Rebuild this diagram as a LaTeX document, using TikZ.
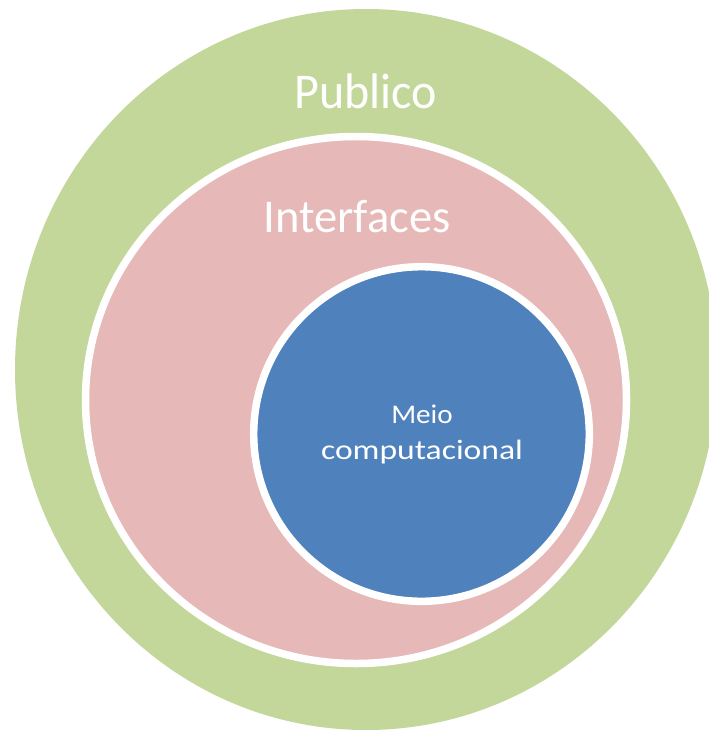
\documentclass[tikz,border=0pt]{standalone}
\usepackage{fontspec}
\setmainfont{Carlito}
\usepackage{graphicx}
\definecolor{pubgreen}{HTML}{C4D79B}
\definecolor{intpink}{HTML}{E6B8B7}
\definecolor{meioblue}{HTML}{4F81BD}
\begin{document}
\begin{tikzpicture}[x=1pt,y=1pt,
  ring/.style={draw=white,line width=7.5pt},
  lbl/.style={text=white,inner sep=0pt,anchor=base}]
\useasboundingbox (0,0) rectangle (709,-731);
\fill[white] (0,0) rectangle (709,-731);
\begin{scope}
\clip (0,0) rectangle (709,-731);
\fill[pubgreen] (366,-369.5) ellipse [x radius=351, y radius=360.5];
\end{scope}
\path[ring,fill=intpink] (356,-400) ellipse [x radius=270.5, y radius=263.5];
\path[ring,fill=meioblue] (421.5,-434) ellipse [x radius=167.8, y radius=167.3];
\node[lbl,font=\fontsize{50}{60}\selectfont] (pub) at (366,-108) {\scalebox{0.96}[1]{Publico}};
\node[lbl,font=\fontsize{47}{56}\selectfont] (int) at (357,-232) {\scalebox{0.99}[1]{Interfaces}};
\node[lbl,font=\fontsize{27}{32}\selectfont] (meio) at (422,-423) {\scalebox{1.08}[1]{Meio}};
\node[lbl,font=\fontsize{28}{32}\selectfont] (comp) at (422,-459) {\scalebox{1.2}[1]{computacional}};
\end{tikzpicture}
\end{document}
